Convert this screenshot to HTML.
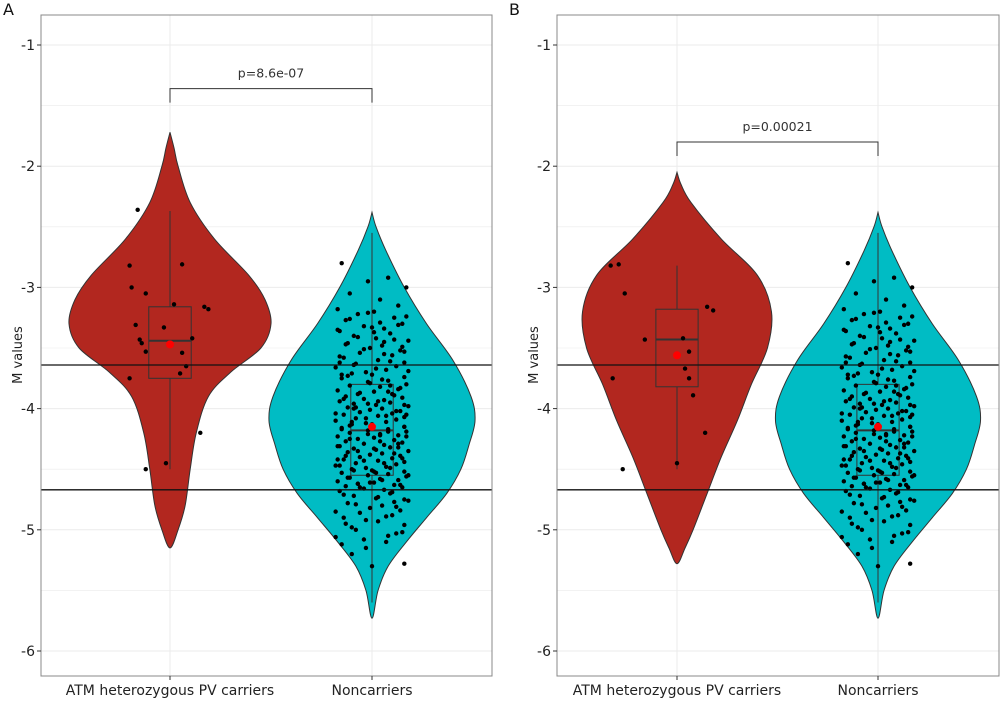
<!DOCTYPE html>
<html><head><meta charset="utf-8"><style>
body{margin:0;background:#fff;}
svg text{font-family:"DejaVu Sans","Liberation Sans",sans-serif;}
</style></head><body>
<svg id="chart" width="1000" height="701" xmlns="http://www.w3.org/2000/svg"></svg>
<script>
const categories=["ATM heterozygous PV carriers","Noncarriers"];
const yTicks=[-1,-2,-3,-4,-5,-6];
const hLines=[-3.64,-4.67];
const pLabels=["p=8.6e-07","p=0.00021"];
const pLevels=[-1.36,-1.8];
// violin profiles: [y, half-width in category units]
const violinRedA=[[-1.72,0],[-1.85,0.02],[-2.0,0.04],[-2.3,0.1],[-2.6,0.22],[-2.9,0.39],[-3.1,0.47],[-3.3,0.5],[-3.5,0.45],[-3.7,0.3],[-3.9,0.19],[-4.2,0.13],[-4.5,0.1],[-4.8,0.075],[-5.0,0.04],[-5.15,0]];
const violinTeal=[[-2.38,0],[-2.5,0.02],[-2.7,0.07],[-3.0,0.16],[-3.3,0.27],[-3.6,0.4],[-3.9,0.49],[-4.1,0.51],[-4.3,0.48],[-4.5,0.44],[-4.7,0.37],[-4.9,0.27],[-5.1,0.17],[-5.3,0.08],[-5.5,0.03],[-5.73,0]];
const violinRedB=[[-2.05,0],[-2.15,0.02],[-2.3,0.07],[-2.6,0.22],[-2.9,0.4],[-3.2,0.47],[-3.5,0.45],[-3.8,0.37],[-4.1,0.3],[-4.4,0.22],[-4.7,0.15],[-5.0,0.08],[-5.15,0.04],[-5.28,0]];
// boxes: [whiskerLow, q1, median, q3, whiskerHigh], means
const boxRedA=[-4.5,-3.75,-3.44,-3.16,-2.37];
const boxTeal=[-5.6,-4.55,-4.18,-3.8,-2.55];
const boxRedB=[-4.5,-3.82,-3.43,-3.18,-2.82];
const means=[[-3.47,-4.15],[-3.56,-4.15]];
const redAy=[-2.36,-2.82,-2.81,-3.0,-3.05,-3.31,-3.33,-3.43,-3.46,-3.53,-3.54,-3.16,-3.18,-3.42,-4.2,-3.71,-3.65,-3.75,-4.45,-4.5,-3.14];
const redAdx=[-0.16,-0.2,0.06,-0.19,-0.12,-0.17,-0.03,-0.15,-0.14,-0.12,0.06,0.17,0.19,0.11,0.15,0.05,0.08,-0.2,-0.02,-0.12,0.02];
const redBy=[-2.82,-2.81,-3.05,-3.43,-3.42,-3.53,-3.67,-3.75,-3.89,-3.16,-3.19,-4.45,-4.2,-4.5,-3.75];
const redBdx=[-0.33,-0.29,-0.26,-0.16,0.03,0.06,0.04,0.06,0.08,0.15,0.18,0.0,0.14,-0.27,-0.32];
const tealY=[-2.80,-2.92,-2.95,-3.00,-3.05,-3.10,-3.15,-3.18,-3.20,-3.22,-3.25,-3.27,-3.30,-3.32,-3.34,-3.36,-3.38,-3.40,-3.42,-3.44,-3.46,-3.48,-3.50,-3.52,-3.54,-3.56,-3.58,-3.60,-3.62,-3.63,-3.65,-3.66,-3.68,-3.70,-3.71,-3.72,-3.74,-3.75,-3.77,-3.78,-3.80,-3.81,-3.82,-3.84,-3.85,-3.86,-3.88,-3.89,-3.90,-3.91,-3.92,-3.93,-3.94,-3.95,-3.96,-3.97,-3.98,-3.99,-4.00,-4.01,-4.02,-4.03,-4.04,-4.05,-4.06,-4.07,-4.08,-4.09,-4.10,-4.11,-4.12,-4.13,-4.14,-4.15,-4.16,-4.17,-4.18,-4.19,-4.20,-4.21,-4.22,-4.23,-4.24,-4.25,-4.26,-4.27,-4.28,-4.29,-4.30,-4.31,-4.32,-4.33,-4.34,-4.35,-4.36,-4.37,-4.38,-4.39,-4.40,-4.41,-4.42,-4.43,-4.44,-4.45,-4.46,-4.47,-4.48,-4.49,-4.50,-4.51,-4.52,-4.53,-4.54,-4.55,-4.56,-4.57,-4.58,-4.59,-4.60,-4.61,-4.62,-4.63,-4.64,-4.65,-4.66,-4.67,-4.68,-4.70,-4.72,-4.74,-4.76,-4.78,-4.80,-4.82,-4.84,-4.86,-4.88,-4.90,-4.93,-4.96,-5.00,-5.03,-5.06,-5.10,-5.15,-5.20,-5.30,-5.28,-5.12,-5.05,
-3.21,-3.24,-3.26,-3.29,-3.31,-3.35,-3.37,-3.41,-3.43,-3.47,-3.49,-3.51,-3.55,-3.57,-3.61,-3.64,-3.67,-3.69,-3.73,-3.76,-3.79,-3.83,-3.87,-3.88,-3.92,-3.94,-3.97,-3.99,-4.02,-4.04,-4.06,-4.08,-4.11,-4.13,-4.15,-4.17,-4.19,-4.21,-4.23,-4.25,-4.27,-4.29,-4.31,-4.33,-4.35,-4.37,-4.39,-4.41,-4.43,-4.45,-4.47,-4.49,-4.51,-4.53,-4.55,-4.57,-4.59,-4.61,-4.63,-4.65,-4.69,-4.71,-4.73,-4.75,-4.79,-4.81,-4.85,-4.89,-4.92,-4.98,-3.33,-3.53,-3.72,-3.86,-3.96,-4.05,-4.14,-4.22,-4.32,-4.42,-4.52,-4.62,-4.77,-4.95,-5.02,-5.08,-3.45,-3.62,-3.81,-4.00];
const jitter=[-0.15,0.08,-0.02,0.17,-0.11,0.04,0.13,-0.17,0.01,-0.07,0.11,-0.13,0.15,-0.04,0.06,-0.16,0.09,-0.09,0.02,0.18,-0.12,0.05,-0.01,0.14,-0.06,0.10,-0.14,0.03,0.16,-0.08,0.12,-0.18,0.07,-0.03,-0.10,0.00,0.16];

const NS="http://www.w3.org/2000/svg";
const svg=document.getElementById('chart');
function mk(tag,attrs,parent){const e=document.createElementNS(NS,tag);for(const k in attrs)e.setAttribute(k,attrs[k]);(parent||svg).appendChild(e);return e;}

const panels=[
 {left:41,right:492,c1:170,step:202,label:"A",lx:3,red:violinRedA,box:boxRedA,pts:[redAy,redAdx]},
 {left:557,right:999,c1:677,step:201,label:"B",lx:509,red:violinRedB,box:boxRedB,pts:[redBy,redBdx]}
];
const plotTop=15,plotBottom=676;
function yS(v){return 45+(-1-v)*121.2;}

panels.forEach((P,pi)=>{
 const g=mk('g',{});
 
 
 const xS=i=>P.c1+i*P.step;
 for(let v=-0.5;v>=-6.5;v-=0.5){const y=yS(v);if(y<plotTop||y>plotBottom)continue;
  const l=mk('line',{x1:P.left,x2:P.right,y1:y,y2:y,stroke:'#ebebeb','stroke-width':Number.isInteger(v)?1:0.6},g);
  
  }
 categories.forEach((c,i)=>{const l=mk('line',{x1:xS(i),x2:xS(i),y1:plotTop,y2:plotBottom,stroke:'#ebebeb'},g);
  
  });
 function violin(prof,ci,fill,name){
  const cx=xS(ci);const right=prof.map(p=>[cx+p[1]*P.step,yS(p[0])]);
  const left=prof.slice().reverse().map(p=>[cx-p[1]*P.step,yS(p[0])]);
  const pts=right.concat(left.slice(1));
  let d='M'+pts[0][0]+','+pts[0][1];
  for(let i=0;i<pts.length-1;i++){const p0=pts[Math.max(i-1,0)],p1=pts[i],p2=pts[i+1],p3=pts[Math.min(i+2,pts.length-1)];
   d+=' C'+(p1[0]+(p2[0]-p0[0])/6)+','+(p1[1]+(p2[1]-p0[1])/6)+' '+(p2[0]-(p3[0]-p1[0])/6)+','+(p2[1]-(p3[1]-p1[1])/6)+' '+p2[0]+','+p2[1];}
  const e=mk('path',{d:d+'Z',fill:fill,stroke:'#333','stroke-width':1},g);
  
  
 }
 violin(P.red,0,'#B2271F','violin-carriers');
 violin(violinTeal,1,'#00BCC4','violin-noncarriers');
 function box(b,ci,name){const cx=xS(ci),hw=0.105*P.step;
  const bg=mk('g',{},g);
  
  
  mk('line',{x1:cx,x2:cx,y1:yS(b[4]),y2:yS(b[3]),stroke:'#333'},bg);
  mk('line',{x1:cx,x2:cx,y1:yS(b[1]),y2:yS(b[0]),stroke:'#333'},bg);
  mk('rect',{x:cx-hw,y:yS(b[3]),width:2*hw,height:yS(b[1])-yS(b[3]),fill:'none',stroke:'#333'},bg);
  mk('line',{x1:cx-hw,x2:cx+hw,y1:yS(b[2]),y2:yS(b[2]),stroke:'#333','stroke-width':2},bg);}
 box(P.box,0,'box-carriers');box(boxTeal,1,'box-noncarriers');
 P.pts[0].forEach((v,i)=>{const c=mk('circle',{cx:xS(0)+P.pts[1][i]*P.step,cy:yS(v),r:2.2,fill:'#000'},g);
  
  });
 tealY.forEach((v,i)=>{const c=mk('circle',{cx:xS(1)+jitter[i%jitter.length]*P.step,cy:yS(v),r:2.2,fill:'#000'},g);
  
  });
 means[pi].forEach((m,i)=>{const c=mk('circle',{cx:xS(i),cy:yS(m),r:4,fill:'#f00'},g);
  
  });
 hLines.forEach(v=>{const l=mk('line',{x1:P.left,x2:P.right,y1:yS(v),y2:yS(v),stroke:'#111','stroke-width':1.3},g);
  
  });
 const by=yS(pLevels[pi]);
 const br=mk('path',{d:`M${xS(0)},${by+14}V${by}H${xS(1)}V${by+14}`,fill:'none',stroke:'#333'},g);
 
 
 const pt=mk('text',{x:(xS(0)+xS(1))/2,y:by-11,'text-anchor':'middle','font-size':12.5,fill:'#333'},g);
 pt.textContent=pLabels[pi];
 
 
 const bd=mk('rect',{x:P.left,y:plotTop,width:P.right-P.left,height:plotBottom-plotTop,fill:'none',stroke:'#888','stroke-width':1},g);
 
 
 yTicks.forEach(v=>{const y=yS(v);mk('line',{x1:P.left-4,x2:P.left,y1:y,y2:y,stroke:'#333'},g);
  const t=mk('text',{x:P.left-6,y:y+5,'text-anchor':'end','font-size':14,fill:'#222'},g);t.textContent=v;
  
  });
 categories.forEach((c,i)=>{mk('line',{x1:xS(i),x2:xS(i),y1:plotBottom,y2:plotBottom+4,stroke:'#333'},g);
  const t=mk('text',{x:xS(i),y:plotBottom+19,'text-anchor':'middle','font-size':14,fill:'#222'},g);t.textContent=c;
  
  });
 const yt=mk('text',{x:0,y:0,transform:`translate(${P.left-19},355) rotate(-90)`,'text-anchor':'middle','font-size':13,fill:'#222'},g);
 yt.textContent='M values';
 
 
 const pl=mk('text',{x:P.lx,y:15,'font-size':16,fill:'#111'},g);pl.textContent=P.label;
 
 
});
</script>
</body></html>
